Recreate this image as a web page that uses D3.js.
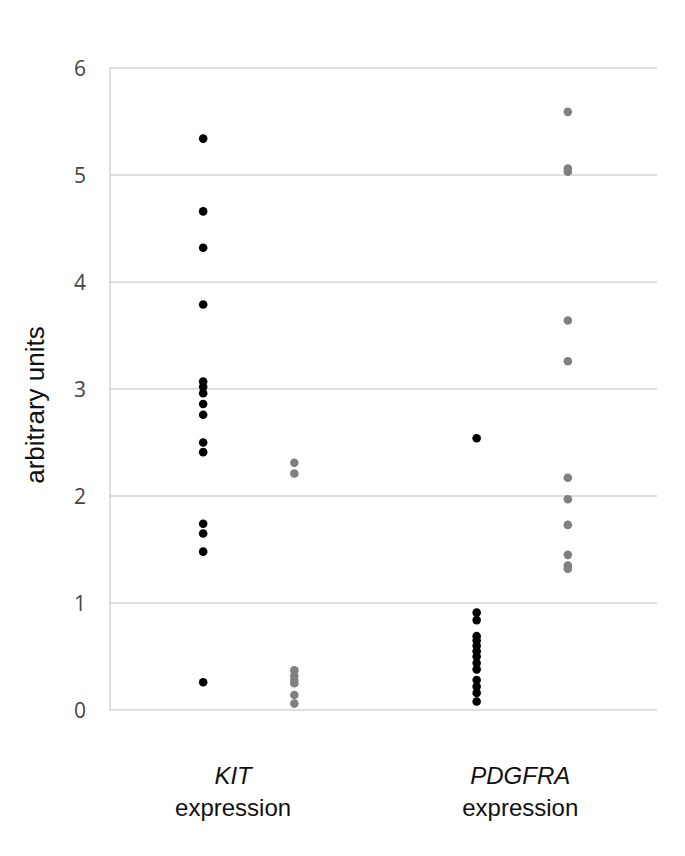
<!DOCTYPE html>
<html>
<head>
<meta charset="utf-8">
<script src="https://cdn.jsdelivr.net/npm/d3@7"></script>
<style>
  body { margin: 0; background: #fff; }
  svg { display: block; }
</style>
</head>
<body>
<script>
// values (arbitrary units)
var kitTumour = [5.34, 4.66, 4.32, 3.79, 3.07, 3.02, 2.96, 2.86, 2.76, 2.50, 2.41, 1.74, 1.65, 1.48, 0.26];
var kitOther = [2.31, 2.21, 0.37, 0.32, 0.28, 0.25, 0.14, 0.06];
var pdgfraTumour = [2.54, 0.91, 0.84, 0.69, 0.65, 0.60, 0.55, 0.50, 0.44, 0.38, 0.28, 0.22, 0.16, 0.08];
var pdgfraOther = [5.59, 5.06, 5.03, 3.64, 3.26, 2.17, 1.97, 1.73, 1.45, 1.35, 1.32];

var yTicks = [0, 1, 2, 3, 4, 5, 6];
var groupLabels = ["KIT", "PDGFRA"];

// series position on x (0..6 scale) and colour
var series = [
  {vals: kitTumour, pos: 1, color: "#000"},
  {vals: kitOther, pos: 2, color: "#808080"},
  {vals: pdgfraTumour, pos: 4, color: "#000"},
  {vals: pdgfraOther, pos: 5, color: "#808080"}
];
var labelPos = [1.35, 4.5];

var width = 685, height = 856;
var margin = {top: 68, right: 28, bottom: 146, left: 110};

var svg = d3.select("body").append("svg")
  .attr("width", width)
  .attr("height", height);

var x = d3.scaleLinear().domain([0, 6]).range([margin.left, width - margin.right]);
var y = d3.scaleLinear().domain([0, 6]).range([height - margin.bottom, margin.top]);

//horizontal gridlines
svg.append("g")
  .selectAll("line")
  .data(yTicks)
  .enter().append("line")
  .attr("x1", margin.left)
  .attr("x2", width - margin.right)
  .attr("y1", function(d){ return y(d); })
  .attr("y2", function(d){ return y(d); })
  .attr("stroke", "#bdbdbd")
  .attr("stroke-width", 1);

//left axis line
svg.append("line")
  .attr("x1", margin.left).attr("x2", margin.left)
  .attr("y1", y(6)).attr("y2", y(0))
  .attr("stroke", "#bdbdbd");

//tick labels
svg.append("g")
  .selectAll("text")
  .data(yTicks)
  .enter().append("text")
  .attr("x", margin.left - 24)
  .attr("y", function(d){ return y(d) + 8; })
  .attr("text-anchor", "end")
  .attr("font-family", "'Open Sans', sans-serif")
  .attr("font-size", 21)
  .attr("fill", "#444")
  .text(function(d){ return d; });

//y label
svg.append("text")
  .attr("transform", "translate(44," + ((y(0) + y(6)) / 2 + 16) + ") rotate(-90)")
  .attr("text-anchor", "middle")
  .attr("font-family", "'Liberation Sans', Arial, sans-serif")
  .attr("font-size", 26)
  .attr("fill", "#111")
  .text("arbitrary units");

//dots
series.forEach(function(s){
  svg.append("g")
    .selectAll("circle")
    .data(s.vals)
    .enter().append("circle")
    .attr("cx", x(s.pos) + 2)
    .attr("cy", function(d){ return y(d); })
    .attr("r", 4.3)
    .attr("fill", s.color);
});

//category labels
var lab = svg.append("g")
  .selectAll("text")
  .data(groupLabels)
  .enter().append("text")
  .attr("x", function(d, i){ return x(labelPos[i]); })
  .attr("y", y(0) + 74)
  .attr("text-anchor", "middle")
  .attr("font-family", "'Liberation Sans', Arial, sans-serif")
  .attr("font-size", 24)
  .attr("fill", "#111");
lab.append("tspan")
  .attr("font-style", "italic")
  .text(function(d){ return d; });
lab.append("tspan")
  .attr("x", function(d, i){ return x(labelPos[i]); })
  .attr("dy", 32)
  .text("expression");
</script>
</body>
</html>
